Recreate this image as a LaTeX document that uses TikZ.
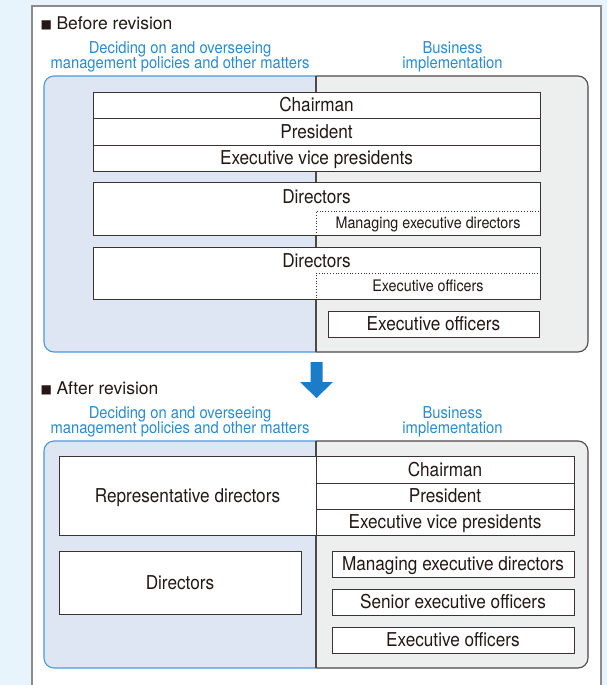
\documentclass[tikz,border=0pt]{standalone}
\usepackage{fontspec}
\setmainfont{TeX Gyre Heros}
\newfontfamily\condf[FakeStretch=0.9]{TeX Gyre Heros}
\newfontfamily\symf{DejaVu Sans}

\definecolor{pagebg}{HTML}{E8F4FC}
\definecolor{panelborder}{HTML}{8C8C8C}
\definecolor{leftfill}{HTML}{DEE5F3}
\definecolor{rightfill}{HTML}{EDEEEE}
\definecolor{blueline}{HTML}{4A9BD6}
\definecolor{grayline}{HTML}{4E4848}
\definecolor{boxline}{HTML}{3C3232}
\definecolor{textc}{HTML}{231815}
\definecolor{bluetext}{HTML}{2A8CD2}
\definecolor{arrowblue}{HTML}{1B7DC8}

\tikzset{
  cell/.style={draw=boxline, line width=0.9pt, fill=white, inner sep=0pt,
    text=textc, font=\fontsize{19.1}{20}\condf, text height=13.7pt, text depth=0pt},
  dotcell/.style={draw=boxline, line width=0.8pt, dotted, inner sep=0pt,
    text=textc, font=\fontsize{15.9}{17}\condf, text height=11.4pt, text depth=0pt},
  celltext/.style={anchor=base, inner sep=0pt, text=textc, font=\fontsize{19.1}{20}\condf},
  heading/.style={anchor=base, inner sep=0pt, text=bluetext, font=\fontsize{16.4}{16}\condf},
  section/.style={anchor=base west, inner sep=0pt, text=textc, font=\fontsize{17.5}{19}\selectfont},
  leftzone/.style={fill=leftfill, draw=blueline, line width=1.1pt, rounded corners=10pt},
  rightzone/.style={fill=rightfill, draw=grayline, line width=1.1pt, rounded corners=10pt},
}

\begin{document}
\begin{tikzpicture}[x=1pt, y=-1pt]
  % page and panel
  \fill[pagebg] (0,0) rectangle (607,685);
  \useasboundingbox (0,0) rectangle (607,685);
  \draw[panelborder, line width=2pt, fill=white] (32,6) -- (32,700) -- (601,700) -- (601,6) -- cycle;

  % ---------------- Before revision ----------------
  \node[section] (secA) at (40.5,29.3) {{\symf\fontsize{12}{12}\selectfont\raisebox{1.2pt}{■}}\hspace{4.5pt}Before revision};
  \node[heading] (decA1) at (180,53.3) {Deciding on and overseeing};
  \node[heading] (decA2) at (180,68.5) {management policies and other matters};
  \node[heading] (busA1) at (452.5,53.3) {Business};
  \node[heading] (busA2) at (452.5,68.5) {implementation};

  \begin{scope}
    \clip (0,0) rectangle (316,685);
    \draw[leftzone] (44,76) rectangle (588,352);
  \end{scope}
  \begin{scope}
    \clip (316,0) rectangle (607,685);
    \draw[rightzone] (44,76) rectangle (588,352);
  \end{scope}
  \draw[grayline, line width=1.1pt] (316,76) -- (316,352);

  \node[cell, minimum width=447pt, minimum height=26pt] (chairA) at (316.5,105) {Chairman};
  \node[cell, minimum width=447pt, minimum height=27pt] (presA) at (316.5,131.5) {President};
  \node[cell, minimum width=447pt, minimum height=26pt] (evpA) at (316.5,158) {Executive vice presidents};

  \node[cell, minimum width=447pt, minimum height=53pt] (dirA) at (316.5,208.5) {};
  \node[celltext] (dirAt) at (316.5,203.3) {Directors};
  \node[dotcell, minimum width=224pt, minimum height=24pt] (medA) at (428,223) {Managing executive directors};

  \node[cell, minimum width=447pt, minimum height=52pt] (dirB) at (316.5,273) {};
  \node[celltext] (dirBt) at (316.5,267.7) {Directors};
  \node[dotcell, minimum width=224pt, minimum height=26pt] (eoA) at (428,286) {Executive officers};

  \node[cell, minimum width=211pt, minimum height=26pt] (eoB) at (433.5,324) {Executive officers};

  % revision arrow
  \fill[arrowblue] (310.5,362) -- (322.5,362) -- (322.5,382) -- (333,382)
    -- (316.5,398) -- (300,382) -- (310.5,382) -- cycle;

  % ---------------- After revision ----------------
  \node[section] (secB) at (40.5,394.3) {{\symf\fontsize{12}{12}\selectfont\raisebox{1.2pt}{■}}\hspace{4.5pt}After revision};
  \node[heading] (decB1) at (180,418.3) {Deciding on and overseeing};
  \node[heading] (decB2) at (180,433.5) {management policies and other matters};
  \node[heading] (busB1) at (452.5,418.3) {Business};
  \node[heading] (busB2) at (452.5,433.5) {implementation};

  \begin{scope}
    \clip (0,0) rectangle (316,685);
    \draw[leftzone] (44,441) rectangle (588,668);
  \end{scope}
  \begin{scope}
    \clip (316,0) rectangle (607,685);
    \draw[rightzone] (44,441) rectangle (588,668);
  \end{scope}
  \draw[grayline, line width=1.1pt] (316,441) -- (316,668);

  \node[cell, minimum width=257pt, minimum height=79pt] (rep) at (187.5,495.5) {Representative directors};
  \node[cell, minimum width=258pt, minimum height=27pt] (chairB) at (445,469.5) {Chairman};
  \node[cell, minimum width=258pt, minimum height=26pt] (presB) at (445,496) {President};
  \node[cell, minimum width=258pt, minimum height=26pt] (evpB) at (445,522) {Executive vice presidents};

  \node[cell, minimum width=242pt, minimum height=63pt] (dirC) at (180,582.5) {Directors};
  \node[cell, minimum width=242pt, minimum height=26pt] (medB) at (453,564) {Managing executive directors};
  \node[cell, minimum width=242pt, minimum height=26pt] (seo) at (453,602) {Senior executive officers};
  \node[cell, minimum width=242pt, minimum height=26pt] (eoC) at (453,640) {Executive officers};
\end{tikzpicture}
\end{document}
